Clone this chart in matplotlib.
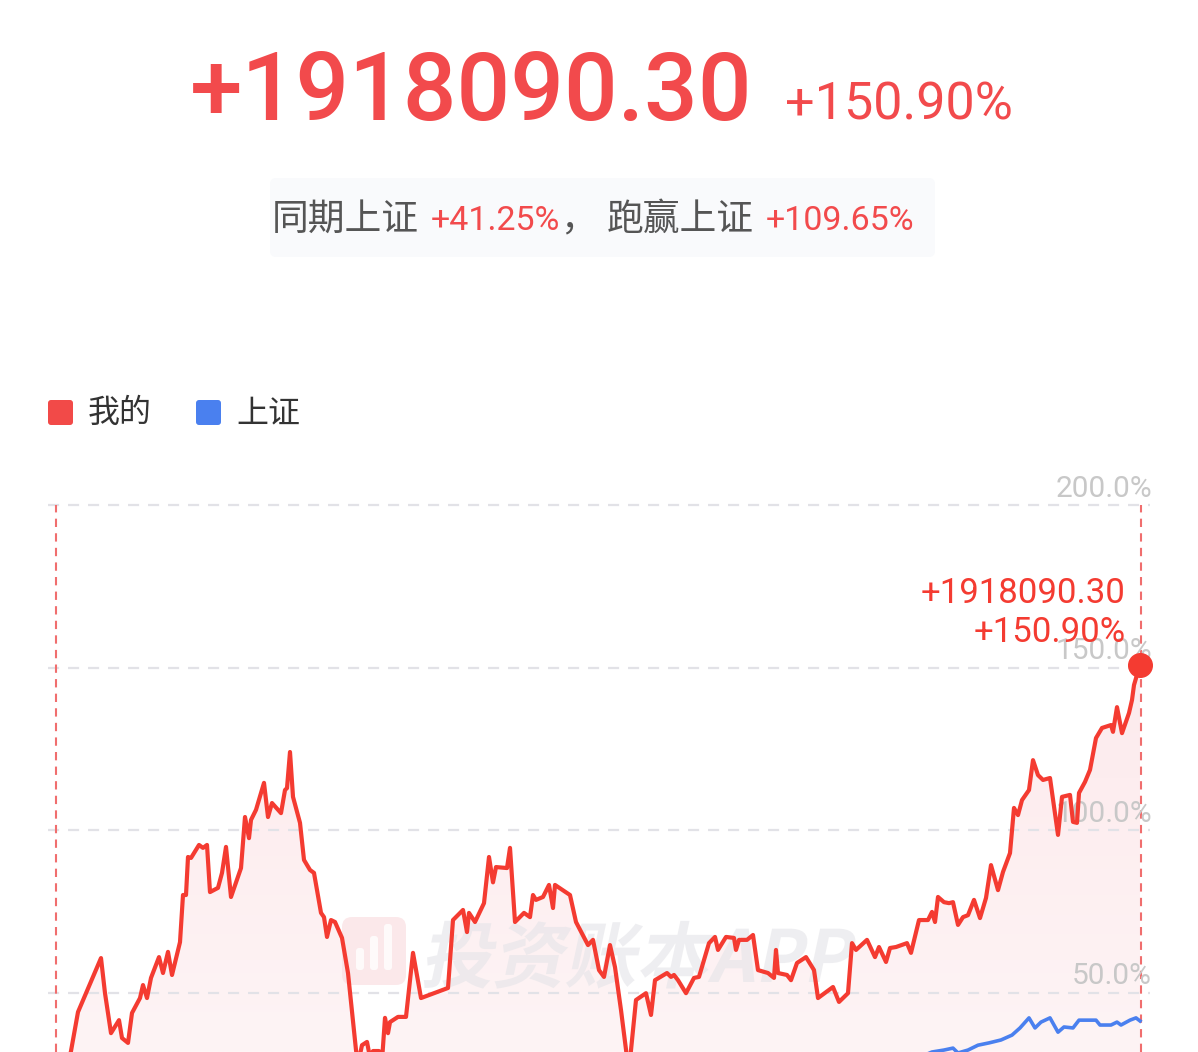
import numpy as np
import matplotlib
matplotlib.use("Agg")
import matplotlib.pyplot as plt
from matplotlib.patches import PathPatch, FancyBboxPatch
from matplotlib.textpath import TextPath
from matplotlib.font_manager import FontProperties
from matplotlib.transforms import Affine2D, IdentityTransform

W, H = 1198, 1052

# 交易日序号 与 累计收益率(%)
mine_day = [0, 9, 15, 22, 45, 49, 55, 63, 66, 72, 76, 84, 87, 91, 95, 103, 107, 112, 116, 124,
            127, 130, 132, 135, 143, 147, 151, 154, 162, 166, 170, 175, 185, 189, 193, 195, 200,
            208, 212, 216, 225, 229, 231, 234, 237, 244, 248, 254, 258, 265, 268, 271, 275, 279,
            286, 292, 300, 302, 306, 311, 314, 317, 323, 326, 329, 332, 334, 342, 350, 357, 365,
            392, 397, 407, 411, 413, 419, 428, 433, 437, 440, 451, 454, 459, 468, 474, 477, 480,
            487, 493, 497, 499, 514, 520, 532, 537, 543, 548, 554, 559, 565, 571, 573, 576, 580,
            590, 595, 599, 611, 615, 618, 622, 630, 638, 643, 653, 659, 662, 670, 678, 680, 683,
            691, 697, 702, 712, 718, 720, 722, 731, 735, 741, 750, 758, 762, 777, 783, 792, 796,
            800, 811, 819, 823, 830, 834, 840, 851, 855, 863, 872, 876, 879, 882, 888, 893, 897,
            902, 907, 912, 918, 924, 930, 935, 942, 947, 954, 958, 962, 966, 973, 977, 982, 987,
            994, 1002, 1006, 1014, 1017, 1021, 1023, 1029, 1034, 1040, 1046, 1055, 1057, 1061,
            1066, 1073, 1076, 1078, 1084]
mine_pct = [0, 24, 32, 44, 60.6, 49.8, 37.5, 41.5, 36, 34.5, 43.7, 48.3, 52.3, 48.3, 54.5, 60.9,
            56, 62.5, 55.4, 65.5, 80, 80, 91.7, 91.4, 95.4, 94.5, 95.4, 80.9, 82.2, 86.8, 94.8,
            79.4, 88.3, 104, 97.5, 103.1, 106.2, 114.5, 104, 108.3, 105.2, 112.3, 112.9, 124,
            110.2, 102.2, 90.8, 87.7, 86.8, 74.5, 73.2, 67.1, 72.3, 71.7, 66.8, 56, 32.3, 28,
            33.8, 34.8, 30, 32, 32, 29, 42.2, 37.5, 40.9, 42.5, 42.5, 62.2, 48.3, 51.4, 72.3,
            75.4, 68.6, 74.5, 71.7, 77.5, 91.7, 83.9, 88.6, 88.3, 94.5, 71.7, 74.5, 73.2, 80,
            78.5, 79.4, 83.1, 76, 83.1, 80, 71.7, 64.6, 66.2, 56.9, 54.8, 64.6, 57.8, 44.6, 30,
            26, 35.4, 47.7, 49.8, 43.1, 53.8, 56, 54.8, 55.4, 53.8, 49.8, 54.5, 54.8, 65.2, 67.1,
            63.1, 67.1, 66.8, 63.1, 66.2, 66.2, 67.7, 56.9, 56, 54.5, 63.1, 56, 55.4, 53.8, 59.1,
            60.9, 56.9, 48.3, 51.7, 47.1, 49.8, 65.2, 63.1, 66.2, 60.9, 64, 59.4, 63.7, 64, 65.2,
            62.2, 72.3, 72.3, 74.8, 71.7, 79.4, 77.8, 77.5, 77.8, 70.8, 73.2, 73.8, 78.5, 72.9,
            79.1, 89.2, 81.5, 87.1, 92.9, 106.8, 104.6, 109.2, 112.3, 121.5, 116.9, 115.4, 116,
            98.5, 110.2, 110.8, 102.5, 102.2, 111.4, 114.8, 118.5, 128.3, 131.4, 132.3, 130.2,
            137.8, 129.8, 136, 140, 144.6, 150.9]

sh_day = [0, 60, 120, 200, 260, 330, 400, 470, 540, 610, 700, 780, 840, 876, 888, 897, 902, 912,
          922, 933, 945, 956, 964, 973, 979, 985, 994, 1002, 1008, 1017, 1023, 1032, 1040, 1044,
          1055, 1061, 1065, 1074, 1080, 1084]
sh_pct = [0, 6, 12, 16, 9, 5, 10, 14, 8, 15, 20, 24, 27, 31.7, 32.3, 32.9, 31.4, 32.3, 33.8, 34.5,
          35.4, 36.9, 39.1, 42.2, 39.1, 40.9, 42.2, 37.8, 39.4, 39.1, 41.5, 41.5, 41.5, 40, 40,
          40.9, 40, 41.5, 42.2, 41.25]

total_profit = "+1918090.30"
total_pct = "+150.90%"
sh_same = "+41.25%"
beat_sh = "+109.65%"
y_ticks = [50, 100, 150, 200]
y_labels = ["50.0%", "100.0%", "150.0%", "200.0%"]
legend_names = ["我的", "上证"]

RED = "#f43b31"
TXT_RED = "#f24a4c"
BLUE = "#4a80ef"
NUM = ["Roboto", "DejaVu Sans"]
CJK = ["Noto Sans CJK SC", "DejaVu Sans"]

fig = plt.figure(figsize=(W / 100, H / 100), dpi=100)
fig.patch.set_facecolor("white")


def fx(x):
    return x / W


def fy(y):
    return 1 - y / H


# ---- 顶部汇总 ----
fig.text(fx(190), fy(120), total_profit, color=TXT_RED, family=NUM, fontsize=68,
         va="baseline", weight="medium")
fig.text(fx(785), fy(120), total_pct, color=TXT_RED, family=NUM, fontsize=37.5, va="baseline")

box = FancyBboxPatch((270, H - 257), 665, 79, boxstyle="round,pad=0,rounding_size=6",
                     transform=IdentityTransform(), facecolor="#f9fafc", edgecolor="none")
fig.add_artist(box)

renderer = fig.canvas.get_renderer()
parts = [("同期上证", "#555555", CJK, 26.5, 12),
         (sh_same, TXT_RED, NUM, 24.5, 0),
         ("，", "#555555", CJK, 26.5, 10),
         ("跑赢上证", "#555555", CJK, 26.5, 12),
         (beat_sh, TXT_RED, NUM, 24.5, 0)]
x = 272
for s, c, fam, size, gap in parts:
    t = fig.text(fx(x), fy(230), s, color=c, family=fam, fontsize=size, va="baseline")
    x += t.get_window_extent(renderer).width + gap

# ---- 图例 ----
for lx, col, name in [(48, "#f24a48", legend_names[0]), (196, "#4a80ef", legend_names[1])]:
    sq = FancyBboxPatch((lx, H - 425), 25, 25, boxstyle="round,pad=0,rounding_size=3",
                        transform=IdentityTransform(), facecolor=col, edgecolor="none")
    fig.add_artist(sq)
    fig.text(fx(lx + 40), fy(413), name, color="#333333", family=CJK, fontsize=23, va="center")

# ---- 折线图 ----
x0, x1 = -8, 1094
y0, y1 = 31.7, 200
ax = fig.add_axes([fx(48), 0, fx(1150) - fx(48), fy(505)])
ax.axis("off")

fill = ax.fill_between(mine_day, mine_pct, 0, color="none", lw=0)
grad = np.linspace(0, 1, 256)[:, None, None]
top = np.array([252, 230, 233]) / 255
bot = np.array([254, 244, 245]) / 255
rgb = np.repeat(top + (bot - top) * grad, 2, axis=1)
img = ax.imshow(rgb, extent=[x0, x1, y0, y1], origin="upper", aspect="auto", zorder=1)
img.set_clip_path(fill.get_paths()[0], ax.transData)

# 水印
fp = FontProperties(family="Noto Sans CJK SC", weight="bold")
tp = TextPath((0, 0), "投资账本APP", size=72, prop=fp)
wm = PathPatch(tp, transform=Affine2D().skew_deg(12, 0).translate(420, H - 982),
               facecolor="#e4e4e8", edgecolor="none", alpha=0.6, zorder=1.5)
ax.add_patch(wm)
icon = FancyBboxPatch((342, H - 985), 64, 68, boxstyle="round,pad=0,rounding_size=10",
                      transform=IdentityTransform(), facecolor="#fadfe2", edgecolor="none",
                      alpha=0.7, zorder=1.5)
ax.add_patch(icon)
for bx, bh in [(356, 22), (370, 34), (384, 46)]:
    bar = FancyBboxPatch((bx, H - 970), 8, bh, boxstyle="round,pad=0,rounding_size=3",
                         transform=IdentityTransform(), facecolor="white", edgecolor="none",
                         alpha=0.8, zorder=1.6)
    ax.add_patch(bar)

for v in y_ticks:
    ax.axhline(v, color="#e2e2e7", lw=1.6, ls=(0, (5, 4)), zorder=2, clip_on=False)
for d in [0, 1085]:
    ax.axvline(d, color="#f06e6e", lw=1.5, ls=(0, (4, 3)), zorder=2, clip_on=False)

for v, s in zip(y_ticks, y_labels):
    ax.text(x1 + 2, v + 2.5, s, color="#c8c8c8", family=NUM, fontsize=21.5,
            ha="right", va="baseline", zorder=2.5, clip_on=False)

ax.plot(sh_day, sh_pct, color=BLUE, lw=2.6, zorder=3, solid_joinstyle="round")
ax.plot(mine_day, mine_pct, color=RED, lw=3.0, zorder=3.5, solid_joinstyle="round")
ax.plot(mine_day[-1], mine_pct[-1], "o", ms=17, color=RED, zorder=5, clip_on=False)

ax.text(1070, 169.8, total_profit, color=RED, family=NUM, fontsize=25, ha="right",
        va="baseline", zorder=5)
ax.text(1070, 157.8, total_pct, color=RED, family=NUM, fontsize=25, ha="right",
        va="baseline", zorder=5)

ax.set_xlim(x0, x1)
ax.set_ylim(y0, y1)

fig.savefig("out.png", dpi=100, facecolor="white")
